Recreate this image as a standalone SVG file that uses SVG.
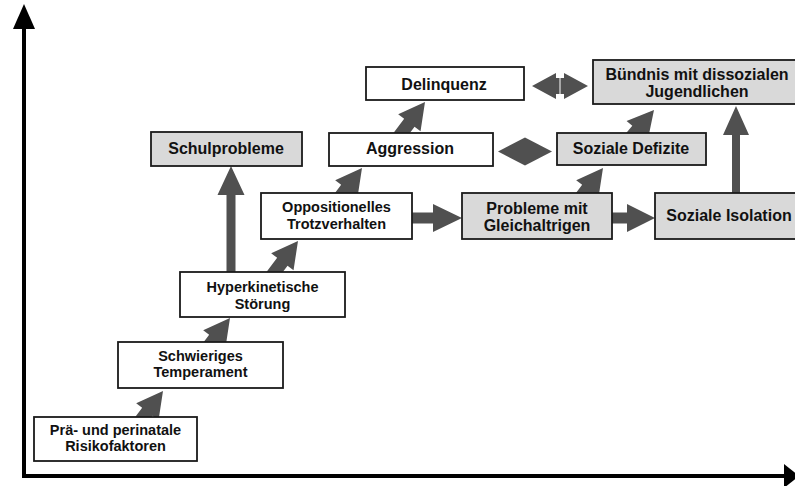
<svg xmlns="http://www.w3.org/2000/svg" xmlns:xlink="http://www.w3.org/1999/xlink" width="795" height="486" viewBox="0 0 795 486">
  <style>
    .box { stroke: #1a1a1a; stroke-width: 1.8; }
    .w { fill: #ffffff; }
    .g { fill: #d9d9d9; }
    .t { font-family: "Liberation Sans", Arial, sans-serif; font-weight: bold; fill: #111; text-anchor: middle; }
    .s { font-size: 14.5px; }
    .l { font-size: 16px; }
    .arr { fill: #505050; stroke: none; }
    .axis { stroke: #000; stroke-width: 4; fill: none; }
  </style>
  <defs>
    <path id="diag" d="M0,0 L-26,-14 L-26,-6.5 L-60,-6.5 L-60,6.5 L-26,6.5 L-26,14 Z"/>
  </defs>
  <rect width="795" height="486" fill="#ffffff"/>

  <g id="axes">
    <line class="axis" x1="24" y1="26" x2="24" y2="476"/>
    <polygon points="24,4 13,29 35,29" fill="#000"/>
    <line class="axis" x1="22" y1="476" x2="786" y2="476"/>
    <polygon points="799,476 784,464 784,488" fill="#000"/>
  </g>

  <g id="connectors" class="arr">
    <use xlink:href="#diag" transform="translate(163,391) rotate(-53)"/>
    <use xlink:href="#diag" transform="translate(230,318) rotate(-53)"/>
    <use xlink:href="#diag" transform="translate(298,241) rotate(-53)"/>
    <use xlink:href="#diag" transform="translate(362,168) rotate(-53)"/>
    <use xlink:href="#diag" transform="translate(425,102) rotate(-53)"/>
    <use xlink:href="#diag" transform="translate(603,168) rotate(-53)"/>
    <use xlink:href="#diag" transform="translate(654,110) rotate(-50)"/>
    <path d="M231,166 L244.5,195 L235.5,195 L235.5,274 L226.5,274 L226.5,195 L217.5,195 Z"/>
    <path d="M736,106 L749,135 L740,135 L740,195 L732,195 L732,135 L723,135 Z"/>
    <path d="M462,218 L433,204 L433,212.5 L410,212.5 L410,223.5 L433,223.5 L433,232 Z"/>
    <path d="M655,218 L627,204 L627,212.5 L610,212.5 L610,223.5 L627,223.5 L627,232 Z"/>
    <polygon points="498,151.5 525,137.5 552,151.5 525,165.5"/>
    <polygon points="532,86 556,73 556,78 559.5,78 559.5,94 556,94 556,99"/>
    <polygon points="588,86 564,73 564,78 560.5,78 560.5,94 564,94 564,99"/>
  </g>

  <g id="prae">
    <rect class="box w" x="34" y="417" width="163" height="44"/>
    <text class="t s" x="115.5" y="435">Prä- und perinatale</text>
    <text class="t s" x="115.5" y="451">Risikofaktoren</text>
  </g>
  <g id="temperament">
    <rect class="box w" x="118" y="342" width="165" height="46"/>
    <text class="t s" x="200.5" y="361">Schwieriges</text>
    <text class="t s" x="200.5" y="377">Temperament</text>
  </g>
  <g id="hyperkinetisch">
    <rect class="box w" x="180" y="272" width="165" height="45"/>
    <text class="t s" x="262.5" y="292">Hyperkinetische</text>
    <text class="t s" x="262.5" y="309">Störung</text>
  </g>
  <g id="oppositionell">
    <rect class="box w" x="261" y="193" width="151" height="46"/>
    <text class="t s" x="336.5" y="212">Oppositionelles</text>
    <text class="t s" x="336.5" y="229">Trotzverhalten</text>
  </g>
  <g id="schulprobleme">
    <rect class="box g" x="151" y="132" width="151" height="34"/>
    <text class="t l" x="226" y="154">Schulprobleme</text>
  </g>
  <g id="aggression">
    <rect class="box w" x="329" y="133" width="164" height="33"/>
    <text class="t l" x="410" y="154">Aggression</text>
  </g>
  <g id="delinquenz">
    <rect class="box w" x="366" y="67" width="158" height="33"/>
    <text class="t l" x="444" y="90">Delinquenz</text>
  </g>
  <g id="buendnis">
    <rect class="box g" x="593" y="60" width="207" height="44"/>
    <text class="t l" x="697" y="80">Bündnis mit dissozialen</text>
    <text class="t l" x="697" y="97">Jugendlichen</text>
  </g>
  <g id="defizite">
    <rect class="box g" x="557" y="133" width="149" height="32"/>
    <text class="t l" x="631" y="154">Soziale Defizite</text>
  </g>
  <g id="gleichaltrige">
    <rect class="box g" x="462" y="193" width="150" height="46"/>
    <text class="t l" x="537" y="213.5">Probleme mit</text>
    <text class="t l" x="537" y="230.5">Gleichaltrigen</text>
  </g>
  <g id="isolation">
    <rect class="box g" x="655" y="193" width="145" height="46"/>
    <text class="t l" x="729" y="221">Soziale Isolation</text>
  </g>
</svg>
